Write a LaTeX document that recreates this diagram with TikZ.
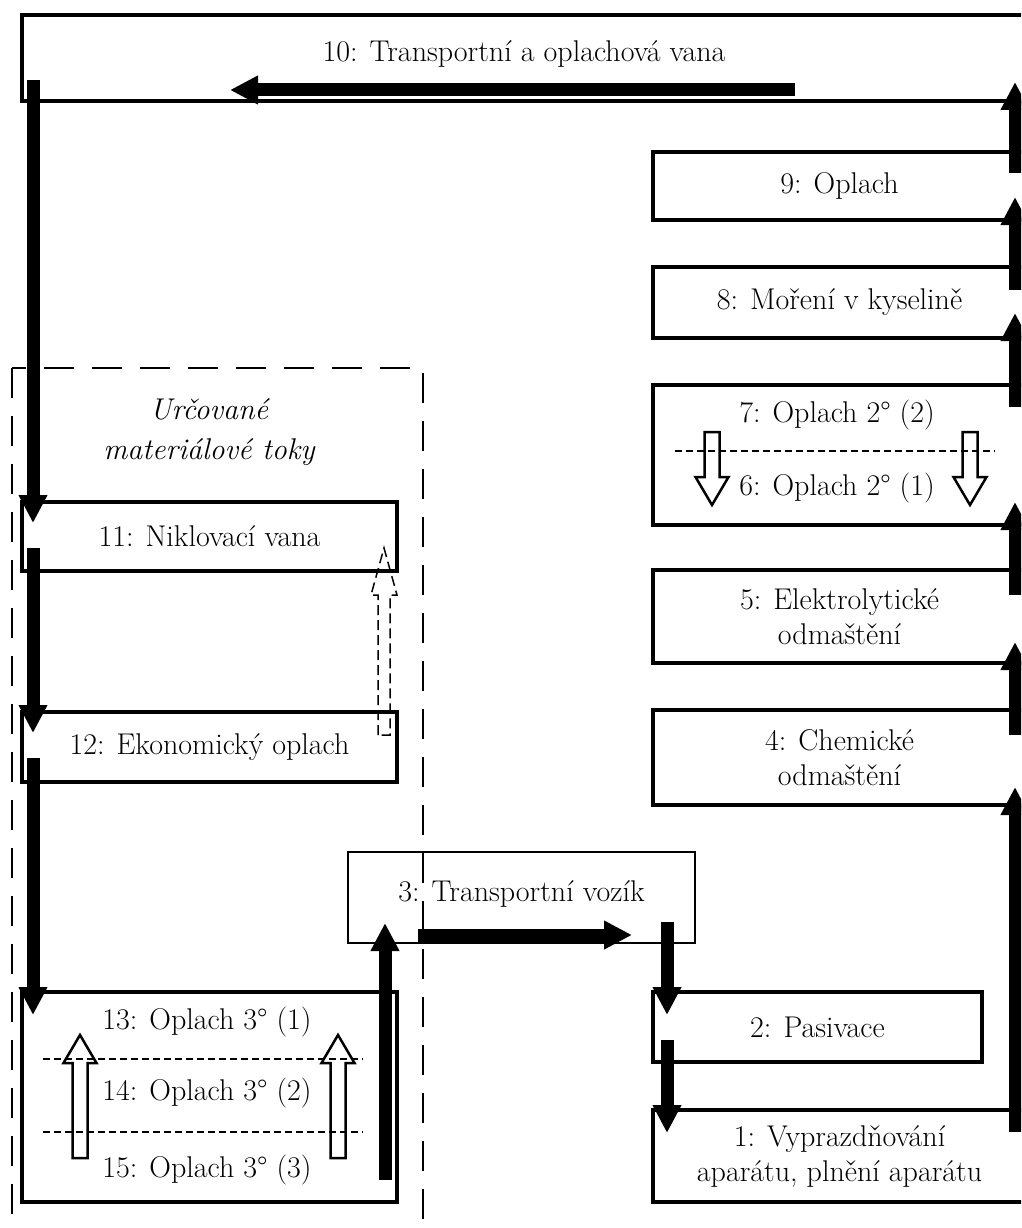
\documentclass[tikz,border=0pt]{standalone}
\usepackage{tikz}
\usetikzlibrary{arrows.meta}

\tikzset{
    hollow/.pic={\draw[line width=2.5pt] (-7.5,0) -- (-7.5,#1-28) -- (-16.5,#1-28) -- (0,#1) -- (16.5,#1-28) -- (7.5,#1-28) -- (7.5,0) -- cycle;}
}

\begin{document}
\begin{tikzpicture}[
    x=1pt, y=-1pt,
    tank/.style={draw, line width=4pt, inner sep=0pt, outer sep=0pt, align=center, font=\fontsize{30}{35}\selectfont},
    cart/.style={tank, line width=1.5pt},
    tanktext/.style={inner sep=0pt, font=\fontsize{30}{35}\selectfont},
    flow/.style={line width=13pt, -{Triangle[length=28pt, width=27pt]}},
    divider/.style={line width=1.2pt, dash pattern=on 7pt off 4pt},
    region/.style={line width=1.5pt, dash pattern=on 30pt off 18pt}
]
\clip (0,0) rectangle (1021,1228);

% vymezena oblast
\draw[region] (12,368) rectangle (423,1260);
\node[font=\itshape\fontsize{30}{40}\selectfont, align=center] (reglbl) at (209,432) {Určované\\materiálové toky};

% vany vpravo
\node[tank, minimum width=1004pt, minimum height=86pt] (b10) at (524,58) {\raisebox{13pt}{10: Transportní a oplachová vana}};
\node[tank, minimum width=373pt, minimum height=68pt] (b9) at (839.5,186) {9: Oplach};
\node[tank, minimum width=373pt, minimum height=71pt] (b8) at (839.5,302.5) {8: Moření v kyselině};
\node[tank, minimum width=373pt, minimum height=140pt] (b76) at (839.5,455) {};
\node[tanktext] (t7) at (837,415) {7: Oplach 2° (2)};
\node[tanktext] (t6) at (837,488) {6: Oplach 2° (1)};
\node[tank, minimum width=373pt, minimum height=93pt] (b5) at (839.5,616.5) {5: Elektrolytické\\odmaštění};
\node[tank, minimum width=373pt, minimum height=95pt] (b4) at (839.5,757.5) {4: Chemické\\odmaštění};
\node[tank, minimum width=329pt, minimum height=70pt] (b2) at (817.5,1027) {2: Pasivace};
\node[tank, minimum width=373pt, minimum height=92pt] (b1) at (839.5,1156) {1: Vyprazdňování\\aparátu, plnění aparátu};

% vozik
\node[cart, minimum width=347pt, minimum height=91pt] (b3) at (521.5,897.5) {\raisebox{12pt}{3: Transportní vozík}};

% vany vlevo
\node[tank, minimum width=375pt, minimum height=69pt] (b11) at (209.5,536.5) {11: Niklovací vana};
\node[tank, minimum width=375pt, minimum height=70pt] (b12) at (209.5,747) {12: Ekonomický oplach};
\node[tank, minimum width=375pt, minimum height=210pt] (b13) at (209.5,1097) {};
\node[tanktext] (t13) at (207,1022) {13: Oplach 3° (1)};
\node[tanktext] (t14) at (207,1093) {14: Oplach 3° (2)};
\node[tanktext] (t15) at (207,1170) {15: Oplach 3° (3)};

% kaskady
\draw[divider] (675,451) -- (995,451);
\draw[divider] (43,1059) -- (363,1059);
\draw[divider] (43,1132) -- (363,1132);
\pic at (712,432) {hollow=73};
\pic at (970,432) {hollow=73};
\pic[rotate=180] at (80,1158) {hollow=123};
\pic[rotate=180] at (338,1158) {hollow=123};

% zpetny tok 12 -> 11
\draw[line width=1.5pt, dash pattern=on 10pt off 5pt] ([shift={(-19,23)}]b12.north east) -- ++(0,-140) -- ++(-7,0) -- ++(13,-47) -- ++(13,47) -- ++(-7,0) -- ++(0,140) -- cycle;

% tok materialu
\draw[flow] ([shift={(-11,-70)}]b1.south east) -- ([shift={(-11,-18)}]b4.south east);
\draw[flow] ([shift={(-11,25)}]b4.north east) -- ([shift={(-11,-21)}]b5.south east);
\draw[flow] ([shift={(-11,25)}]b5.north east) -- ([shift={(-11,-23)}]b76.south east);
\draw[flow] ([shift={(-11,22)}]b76.north east) -- ([shift={(-11,-25)}]b8.south east);
\draw[flow] ([shift={(-11,23)}]b8.north east) -- ([shift={(-11,-23)}]b9.south east);
\draw[flow] ([shift={(-11,21)}]b9.north east) -- ([shift={(-11,-19)}]b10.south east);
\draw[flow] ([shift={(-231,-11)}]b10.south east) -- ([shift={(208,-11)}]b10.south west);
\draw[flow] ([shift={(11,-21)}]b10.south west) -- ([shift={(11,21)}]b11.north west);
\draw[flow] ([shift={(11,-23)}]b11.south west) -- ([shift={(11,21)}]b12.north west);
\draw[flow] ([shift={(11,-24)}]b12.south west) -- ([shift={(11,23)}]b13.north west);
\draw[flow] ([shift={(-12,-22)}]b13.south east) -- ([shift={(37,-20)}]b3.south west);
\draw[flow] ([shift={(70,-8)}]b3.south west) -- ([shift={(-63,-8)}]b3.south east);
\draw[flow] ([shift={(-28,-21)}]b3.south east) -- ([shift={(14,23)}]b2.north west);
\draw[flow] ([shift={(14,-22)}]b2.south west) -- ([shift={(14,23)}]b1.north west);
\end{tikzpicture}
\end{document}
